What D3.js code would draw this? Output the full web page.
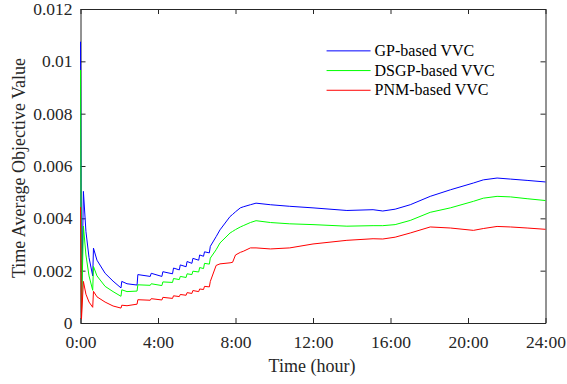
<!DOCTYPE html>
<html>
<head>
<meta charset="utf-8">
<script src="https://cdn.jsdelivr.net/npm/d3@7"></script>
<style>
  body { margin: 0; background: #fff; }
  .axis path, .axis line { stroke: #262626; }
  .line { fill: none; stroke-width: 1; }
</style>
</head>
<body>
<svg width="567" height="384"></svg>
<script>
// time in hours, shared by all three series
const hours = [0, 0.05, 0.15, 0.28, 0.44, 0.63, 0.67, 0.85, 1.27, 1.68, 2.09, 2.13, 2.4, 2.92, 2.96,
  3.6, 3.65, 4.2, 4.25, 4.75, 4.8, 5.1, 5.15, 5.45, 5.5, 5.75, 5.8, 6.1, 6.15, 6.35, 6.4, 6.65, 6.7,
  7.0, 7.2, 7.72, 7.85, 8.0, 8.25, 8.4, 8.77, 9.06, 9.8, 10.8, 12.0, 13.75, 15.1, 15.6, 16.24,
  17.02, 18.05, 19.09, 20.28, 20.79, 21.5, 22.19, 23.05, 24];

const gpVVC = [0.01075, 0.0004, 0.00503, 0.0035, 0.0025, 0.0018, 0.00286, 0.0024, 0.0019, 0.0016, 0.00134, 0.00159, 0.0015, 0.00145, 0.00185,
  0.00178, 0.0019, 0.00178, 0.00196, 0.00188, 0.0021, 0.00203, 0.00222, 0.00215, 0.00235, 0.00228, 0.00247, 0.0024, 0.0026, 0.00255, 0.00272, 0.00268, 0.00293,
  0.0033, 0.00356, 0.00407, 0.00415, 0.00425, 0.0044, 0.00444, 0.00452, 0.00458, 0.00452, 0.00446, 0.0044, 0.0043, 0.00433, 0.00428, 0.00435,
  0.00452, 0.00484, 0.00509, 0.00535, 0.00547, 0.00554, 0.0055, 0.00545, 0.00539];

const dsgpVVC = [0.00967, 0.0003, 0.0037, 0.0026, 0.0018, 0.00125, 0.00216, 0.0018, 0.0014, 0.0012, 0.00102, 0.00127, 0.0012, 0.00122, 0.00146,
  0.00144, 0.0015, 0.00143, 0.00157, 0.00155, 0.0017, 0.00166, 0.00178, 0.00174, 0.00188, 0.00185, 0.00198, 0.00195, 0.00212, 0.00208, 0.00228, 0.00225, 0.00248,
  0.0028, 0.00306, 0.00344, 0.0035, 0.00357, 0.00367, 0.00372, 0.00384, 0.00391, 0.00384, 0.00379, 0.00376, 0.0037, 0.00372, 0.00372, 0.00376,
  0.00392, 0.00423, 0.0044, 0.00465, 0.00477, 0.00484, 0.00482, 0.00475, 0.00468];

const pnmVVC = [0.00443, 0.00015, 0.00159, 0.0011, 0.0008, 0.0006, 0.00121, 0.001, 0.0008, 0.00065, 0.00057, 0.00068, 0.00066, 0.00072, 0.00089,
  0.00087, 0.00093, 0.00088, 0.00098, 0.00094, 0.00104, 0.00101, 0.00109, 0.00106, 0.00116, 0.00113, 0.00124, 0.0012, 0.0013, 0.00128, 0.0014, 0.00138, 0.00159,
  0.0022, 0.00226, 0.0023, 0.00232, 0.0026, 0.0027, 0.00274, 0.00287, 0.00287, 0.00283, 0.00287, 0.00302, 0.00316, 0.00322, 0.00321, 0.00328,
  0.00344, 0.00367, 0.00363, 0.00354, 0.00361, 0.00369, 0.00367, 0.00363, 0.00358];

const seriesNames = ['GP-based VVC', 'DSGP-based VVC', 'PNM-based VVC'];
const seriesColors = ['#0000ff', '#00ff00', '#ff0000'];
const xTicks = [0, 4, 8, 12, 16, 20, 24];
const yTicks = [0, 0.002, 0.004, 0.006, 0.008, 0.01, 0.012];

const serif = '"Liberation Serif"';

const svg = d3.select('svg');
const margin = { top: 9, right: 21.5, bottom: 61, left: 80.5 };
const width = +svg.attr('width') - margin.left - margin.right;
const height = +svg.attr('height') - margin.top - margin.bottom;

const x = d3.scaleLinear().domain([0, 24]).range([0, width]);
const y = d3.scaleLinear().domain([0, 0.012]).range([height, 0]);

const g = svg.append('g').attr('transform', `translate(${margin.left},${margin.top})`);

const fmtX = d => `${d}:00`;
const fmtY = d => (d === 0 ? '0' : d3.format('.3~f')(d));

function styleAxis(sel) {
  sel.selectAll('text')
    .style('font-family', serif)
    .style('font-size', '17.5px')
    .attr('fill', '#262626');
}

// axes with inward ticks, mirrored on top and right
g.append('g')
  .attr('class', 'axis')
  .attr('transform', `translate(0,${height})`)
  .call(d3.axisBottom(x).tickValues(xTicks).tickFormat(fmtX).tickSizeInner(-5).tickSizeOuter(0).tickPadding(13))
  .call(styleAxis);

g.append('g')
  .attr('class', 'axis')
  .call(d3.axisLeft(y).tickValues(yTicks).tickFormat(fmtY).tickSizeInner(-5).tickSizeOuter(0).tickPadding(8))
  .call(styleAxis);

g.append('g')
  .attr('class', 'axis')
  .call(d3.axisTop(x).tickValues(xTicks).tickFormat('').tickSizeInner(-5).tickSizeOuter(0));

g.append('g')
  .attr('class', 'axis')
  .attr('transform', `translate(${width},0)`)
  .call(d3.axisRight(y).tickValues(yTicks).tickFormat('').tickSizeInner(-5).tickSizeOuter(0));

const line = d3.line()
  .x((d, i) => x(hours[i]))
  .y(d => y(d));

[gpVVC, dsgpVVC, pnmVVC].forEach((vals, i) => {
  g.append('path')
    .datum(vals)
    .attr('class', 'line')
    .attr('stroke', seriesColors[i])
    .attr('d', line);
});

// legend
const legend = g.append('g').attr('transform', `translate(${x(12.7)},${y(0.0104)})`);
seriesNames.forEach((name, i) => {
  const row = legend.append('g').attr('transform', `translate(0,${i * 19.7})`);
  row.append('line')
    .attr('x1', 0).attr('x2', 44)
    .attr('stroke', seriesColors[i]).attr('stroke-width', 1);
  row.append('text')
    .attr('x', 48).attr('y', 5)
    .style('font-family', serif)
    .style('font-size', '16px')
    .attr('fill', '#000')
    .text(name);
});

// axis titles
svg.append('text')
  .attr('x', margin.left + width / 2 - 1)
  .attr('y', 372)
  .attr('text-anchor', 'middle')
  .style('font-family', serif)
  .style('font-size', '18px')
  .attr('fill', '#262626')
  .text('Time (hour)');

svg.append('text')
  .attr('transform', `translate(25,${margin.top + height / 2 + 2}) rotate(-90)`)
  .attr('text-anchor', 'middle')
  .style('font-family', serif)
  .style('font-size', '18px')
  .attr('fill', '#262626')
  .text('Time Average Objective Value');
</script>
</body>
</html>
